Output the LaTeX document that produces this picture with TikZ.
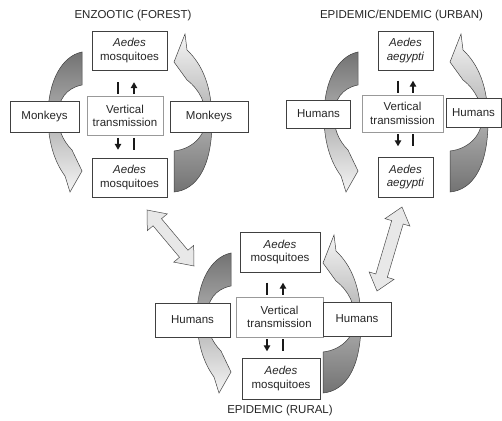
\documentclass[tikz,border=0pt]{standalone}
\usepackage{fontspec}
\setmainfont{Liberation Sans}
\usetikzlibrary{arrows.meta,calc}
\newcommand\fs{\fontsize{11.5}{13.5}\selectfont}
\tikzset{
 box/.style={draw=black!75, line width=0.6pt, fill=white, inner sep=0pt, align=center, text=black!85, font=\fs},
 vbox/.style={box, draw=black!40},
 ttl/.style={inner sep=0pt, text=black!85, font=\fs},
 curvearrow/.style={draw=black!75, line width=0.5pt},
 dblarrow/.style={draw=black!70, line width=0.5pt, fill=black!9},
 vline/.style={line width=1.2pt, draw=black!90},
 varrow/.style={vline, -{Triangle[length=6pt,width=6.5pt]}},
}
% left curved arrow (tail dark at top, head light at bottom)
\newcommand\leftcurve[1]{%
\begin{scope}[shift={(#1)}]
\shade[curvearrow, top color=black!55, bottom color=black!4]
 (-46,-64) .. controls (-66,-60) and (-80,-35) .. (-80,0)
 .. controls (-80,25) and (-74,45) .. (-63,60) -- (-58,76) -- (-46,55) -- (-56,34)
 .. controls (-66,24) and (-70,12) .. (-70,0)
 .. controls (-70,-16) and (-62,-28) .. (-46,-31) -- cycle;
\end{scope}}
% right curved arrow (tail dark at bottom, head light at top)
\newcommand\rightcurve[1]{%
\begin{scope}[shift={(#1)}]
\shade[curvearrow, top color=black!4, bottom color=black!55]
 (57,-82) -- (59,-66) .. controls (74,-52) and (84,-30) .. (84,5)
 .. controls (84,52) and (68,74) .. (46,76) -- (46,35)
 .. controls (64,33) and (78,20) .. (78,2)
 .. controls (78,-12) and (72,-26) .. (59,-36) -- (46,-54) -- cycle;
\end{scope}}
% small vertical arrows around a vertical-transmission box
\newcommand\smallarr[3]{%
\draw[vline] ($(#1.north)+(#2,-14)$) -- ($(#1.north)+(#2,-2)$);
\draw[varrow] ($(#1.north)+(#3,-2)$) -- ($(#1.north)+(#3,-14)$);
\draw[varrow] ($(#1.south)+(#2,2)$) -- ($(#1.south)+(#2,14)$);
\draw[vline] ($(#1.south)+(#3,2)$) -- ($(#1.south)+(#3,14)$);}
% straight double arrow between two named coordinates
\newcommand\dblarr[3]{% #1 start, #2 end, #3 shaft half-width
\coordinate (#1h) at ($(#1)!16pt!(#2)$);
\coordinate (#2h) at ($(#2)!16pt!(#1)$);
\path[dblarrow] (#1) -- ($(#1h)!13pt!90:(#2)$) -- ($(#1h)!#3!90:(#2)$)
 -- ($(#2h)!#3!-90:(#1)$) -- ($(#2h)!13pt!-90:(#1)$) -- (#2)
 -- ($(#2h)!13pt!90:(#1)$) -- ($(#2h)!#3!90:(#1)$)
 -- ($(#1h)!#3!-90:(#2)$) -- ($(#1h)!13pt!-90:(#2)$) -- cycle;}
\begin{document}
\begin{tikzpicture}[x=1pt,y=-1pt]
\useasboundingbox[fill=white] (0,0) rectangle (502,420);

% ---------- curved arrows (behind boxes)
\leftcurve{128,116}
\rightcurve{128,116}
\leftcurve{404,116}
\rightcurve{404,116}
\leftcurve{277,317}
\rightcurve{277,317}

% ---------- double arrows between cycles
\coordinate (dlA) at (147,210);
\coordinate (dlB) at (194,266);
\dblarr{dlA}{dlB}{5.5pt}
\coordinate (drA) at (402,207);
\coordinate (drB) at (377,291);
\dblarr{drA}{drB}{6pt}

% ---------- ENZOOTIC (FOREST)
\node[ttl] (fTitle) at (133,16) {ENZOOTIC (FOREST)};
\node[box, minimum width=75pt, minimum height=39pt] (fT) at (129.5,50.5) {\textit{Aedes}\\mosquitoes};
\node[vbox, minimum width=76pt, minimum height=39pt] (fV) at (125,116) {Vertical\\transmission};
\node[box, minimum width=69pt, minimum height=31pt] (fL) at (44.5,117) {Monkeys};
\node[box, minimum width=78pt, minimum height=31pt] (fR) at (209,117) {Monkeys};
\node[box, minimum width=75pt, minimum height=39pt] (fB) at (129.5,177.5) {\textit{Aedes}\\mosquitoes};
\smallarr{fV}{-7}{9}

% ---------- EPIDEMIC/ENDEMIC (URBAN)
\node[ttl] (uTitle) at (401.5,16) {EPIDEMIC/ENDEMIC (URBAN)};
\node[box, minimum width=55pt, minimum height=39pt] (uT) at (405.5,50.5) {\textit{Aedes}\\\textit{aegypti}};
\node[vbox, minimum width=81pt, minimum height=37pt] (uV) at (402.5,113.5) {Vertical\\transmission};
\node[box, minimum width=64pt, minimum height=28pt] (uL) at (318.5,114) {Humans};
\node[box, minimum width=55pt, minimum height=29pt] (uR) at (473.5,113) {Humans};
\node[box, minimum width=55pt, minimum height=40pt] (uB) at (405.5,177) {\textit{Aedes}\\\textit{aegypti}};
\smallarr{uV}{-4.5}{10.5}

% ---------- EPIDEMIC (RURAL)
\node[ttl] (rTitle) at (280,411) {EPIDEMIC (RURAL)};
\node[box, minimum width=80pt, minimum height=40pt] (rT) at (280,252) {\textit{Aedes}\\mosquitoes};
\node[vbox, minimum width=87pt, minimum height=40pt] (rV) at (279.5,317) {Vertical\\transmission};
\node[box, minimum width=75pt, minimum height=34pt] (rL) at (192.5,320) {Humans};
\node[box, minimum width=68pt, minimum height=34pt] (rR) at (357,319) {Humans};
\node[box, minimum width=78pt, minimum height=41pt] (rB) at (281,378.5) {\textit{Aedes}\\mosquitoes};
\smallarr{rV}{-12.5}{3.5}
\end{tikzpicture}
\end{document}
